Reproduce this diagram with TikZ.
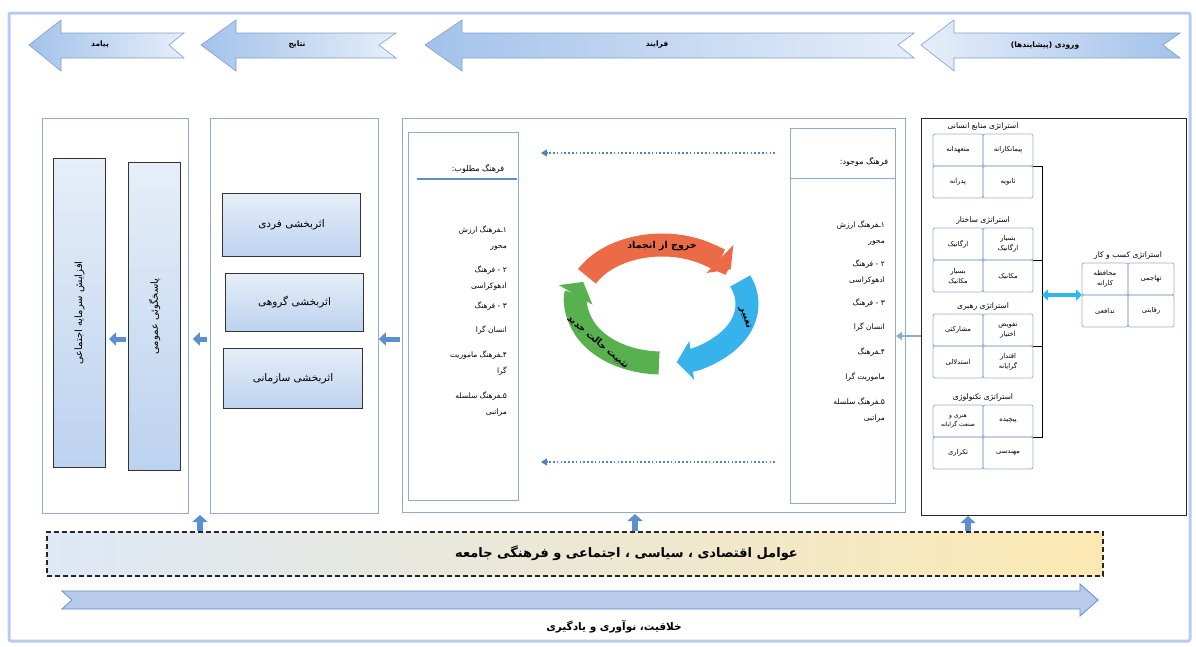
\documentclass[tikz,border=0pt]{standalone}
\usepackage{fontspec}
\usepackage{tikz}
\usetikzlibrary{arrows.meta, positioning, calc}

\newfontfamily\arabicfont[Script=Arabic]{DejaVu Sans}
\TeXXeTstate=1
\newcommand{\fa}[1]{{\arabicfont\beginR #1\endR}}

\definecolor{edgeblue}{HTML}{8FABD1}
\definecolor{cellblue}{HTML}{97B0D3}
\definecolor{bandlight}{HTML}{E6EEF9}
\definecolor{banddark}{HTML}{A3C2EA}
\definecolor{bandedge}{HTML}{7F9FCC}
\definecolor{boxlight}{HTML}{E6EEF8}
\definecolor{boxdark}{HTML}{BCD2EF}
\definecolor{flowblue}{HTML}{5B8FD0}
\definecolor{dotblue}{HTML}{4C84C6}
\definecolor{cyanblue}{HTML}{2CB8EF}
\definecolor{cycred}{HTML}{EC6B47}
\definecolor{cycblue}{HTML}{37B3EC}
\definecolor{cycgreen}{HTML}{58B04F}
\definecolor{sandlight}{HTML}{FCE8B2}
\definecolor{longfill}{HTML}{B8CCEA}
\definecolor{framepen}{HTML}{B5CCEE}

\begin{document}
\begin{tikzpicture}[
  x=1pt, y=-1pt,
  band/.style      = {draw=bandedge, line width=0.6pt, left color=banddark, right color=bandlight},
  bandtext/.style  = {inner sep=0pt, font=\fontsize{7.5}{9}\selectfont\bfseries},
  frame/.style     = {draw=edgeblue, line width=0.8pt, inner sep=0pt, anchor=north west},
  panel/.style     = {draw=black!80, line width=1pt, inner sep=0pt, anchor=north west,
                      top color=boxlight, bottom color=boxdark, font=\fontsize{10.5}{12}\selectfont},
  item/.style      = {anchor=east, align=right, inner sep=0pt, font=\fontsize{7.5}{15.5}\selectfont},
  title/.style     = {inner sep=0pt, font=\fontsize{7.6}{9}\selectfont},
  cell/.style      = {draw=cellblue, line width=0.8pt, rounded corners=2pt, minimum width=50pt,
                      minimum height=32pt, inner sep=1pt, outer sep=0pt, align=center,
                      font=\fontsize{6.8}{10}\selectfont, node distance=0pt},
  flow/.style      = {draw=flowblue, line width=5pt, -{Triangle[length=7pt, width=13pt]}},
  thinflow/.style  = {draw=edgeblue, line width=2pt, -{Triangle[length=6pt, width=8pt]}},
  dotflow/.style   = {draw=dotblue, line width=1.6pt, dash pattern=on 1.6pt off 2.2pt,
                      -{Triangle[length=6pt, width=7pt]}},
  bracket/.style   = {draw=black, line width=0.9pt},
  biarrow/.style   = {draw=cyanblue, line width=4pt,
                      {Triangle[length=6pt, width=11pt]}-{Triangle[length=6pt, width=11pt]}},
  cycarc/.style    = {line width=23pt, -{Triangle[length=15pt, width=38pt]}},
  cyctext/.style   = {inner sep=0pt, font=\fontsize{9.5}{11}\selectfont\bfseries},
  factors/.style   = {draw=black!85, line width=1.3pt, dash pattern=on 5pt off 3pt,
                      minimum width=1056pt, minimum height=44pt, inner sep=0pt,
                      left color=boxlight!80!boxdark, right color=sandlight}
]
\useasboundingbox (0,0) rectangle (1196,646);
\draw[framepen, line width=3pt, rounded corners=2pt] (9,13) rectangle (1190,641);

% top band arrows
\draw[band] (29,45) -- (61,20) -- (61,33) -- (184,33) -- (169,45) -- (184,58) -- (61,58) -- (61,71) -- cycle;
\node[bandtext] (outlbl) at (100,45) {\fa{پیامد}};
\draw[band] (201,45) -- (236,20) -- (236,33) -- (396,33) -- (379,45) -- (396,58) -- (236,58) -- (236,71) -- cycle;
\node[bandtext] (reslbl) at (297,45) {\fa{نتایج}};
\draw[band] (425,45) -- (462,20) -- (462,33) -- (914,33) -- (898,45) -- (914,58) -- (462,58) -- (462,71) -- cycle;
\node[bandtext] (prclbl) at (657,45) {\fa{فرایند}};
\draw[band, left color=bandlight, right color=banddark]
  (921,45) -- (954,20) -- (954,33) -- (1180,33) -- (1163,45) -- (1180,58) -- (954,58) -- (954,71) -- cycle;
\node[bandtext] (inplbl) at (1045,46) {\fa{ورودی (پیشایندها)}};

% outcome column
\node[frame, minimum width=146pt, minimum height=395pt] (outc) at (42,118) {};
\node[panel, minimum width=52pt, minimum height=309pt] (capbar) at (53,158) {};
\node[rotate=90, font=\fontsize{10}{12}\selectfont] (captxt) at (capbar.center) {\fa{افزایش سرمایه اجتماعی}};
\node[panel, minimum width=52pt, minimum height=308pt] (accbar) at (128,162) {};
\node[rotate=90, font=\fontsize{10}{12}\selectfont] (acctxt) at (accbar.center) {\fa{پاسخگوئی عمومی}};

% results column
\node[frame, minimum width=168pt, minimum height=395pt] (resu) at (210,118) {};
\node[panel, minimum width=138pt, minimum height=63pt] (effind) at (222,193) {\fa{اثربخشی فردی}};
\node[panel, minimum width=138pt, minimum height=58pt] (effgrp) at (225,273) {\fa{اثربخشی گروهی}};
\node[panel, minimum width=139pt, minimum height=60pt] (efforg) at (223,348) {\fa{اثربخشی سازمانی}};

% process column
\node[frame, minimum width=503pt, minimum height=394pt] (proc) at (402,118) {};
\node[frame, line width=0.9pt, minimum width=110pt, minimum height=368pt] (desbox) at (408,132) {};
\node[frame, line width=0.9pt, minimum width=105pt, minimum height=375pt] (curbox) at (790,128) {};
\draw[edgeblue, line width=0.9pt] (curbox.west |- 0,178) -- (curbox.east |- 0,178);
\draw[flowblue, line width=1.3pt] (417,179) -- (517,179);
\node[title, font=\fontsize{8}{9}\selectfont] (deshead) at (478,169) {\fa{فرهنگ مطلوب:}};
\node[title, font=\fontsize{8}{9}\selectfont] (curhead) at (864,162) {\fa{فرهنگ موجود:}};

\node[item] (des1) at (507,238) {\fa{۱ـفرهنگ ارزش}\\\fa{محور}};
\node[item] (des2) at (507,278) {\fa{۲ - فرهنگ}\\\fa{ادهوکراسی}};
\node[item] (des3) at (507,306) {\fa{۳ - فرهنگ}};
\node[item] (des3b) at (507,330) {\fa{انسان گرا}};
\node[item] (des4) at (507,363) {\fa{۴ـفرهنگ ماموریت}\\\fa{گرا}};
\node[item] (des5) at (507,404) {\fa{۵ـفرهنگ سلسله}\\\fa{مراتبی}};

\node[item] (cur1) at (885,233) {\fa{۱ـفرهنگ ارزش}\\\fa{محور}};
\node[item] (cur2) at (885,272) {\fa{۲ - فرهنگ}\\\fa{ادهوکراسی}};
\node[item] (cur3) at (885,303) {\fa{۳ - فرهنگ}};
\node[item] (cur3b) at (885,327) {\fa{انسان گرا}};
\node[item] (cur4) at (885,352) {\fa{۴ـفرهنگ}};
\node[item] (cur4b) at (885,377) {\fa{ماموریت گرا}};
\node[item] (cur5) at (885,410) {\fa{۵ـفرهنگ سلسله}\\\fa{مراتبی}};

\draw[dotflow, shorten <=15pt, shorten >=22pt] (curbox.west |- 0,153) -- (desbox.east |- 0,153);
\draw[dotflow, shorten <=15pt, shorten >=22pt] (curbox.west |- 0,462) -- (desbox.east |- 0,462);

% change cycle
\coordinate (cyc) at (662,304);
\draw[cycarc, draw=cycred] (cyc) ++(152:85pt and 59pt)
  arc[start angle=152, end angle=36, x radius=85pt, y radius=59pt];
\draw[cycarc, draw=cycblue] (cyc) ++(23:85pt and 59pt)
  arc[start angle=23, end angle=-80, x radius=85pt, y radius=59pt];
\draw[cycarc, draw=cycgreen] (cyc) ++(268:85pt and 59pt)
  arc[start angle=268, end angle=158, x radius=85pt, y radius=59pt];
\node[cyctext] (unfrz) at (662,246) {\fa{خروج از انجماد}};
\node[cyctext, rotate=-72] (chng) at (745,318) {\fa{تغییر}};
\node[cyctext, rotate=-40] (refrz) at (598,342) {\fa{تثبیت حالت جدید}};

% input column
\node[frame, draw=black!85, minimum width=265pt, minimum height=397pt] (inpt) at (921,118) {};

\node[cell] (hrTL) at (958,150) {\fa{متعهدانه}};
\node[cell, right=of hrTL] (hrTR) {\fa{پیمانکارانه}};
\node[cell, below=of hrTL] (hrBL) {\fa{پدرانه}};
\node[cell, below=of hrTR] (hrBR) {\fa{ثانویه}};
\node[title, above=3pt] (hrT) at ($(hrTL.north)!.5!(hrTR.north)$) {\fa{استراتژی منابع انسانی}};

\node[cell] (stTL) at (958,244) {\fa{ارگانیک}};
\node[cell, right=of stTL] (stTR) {\fa{بسیار}\\\fa{ارگانیک}};
\node[cell, below=of stTL] (stBL) {\fa{بسیار}\\\fa{مکانیک}};
\node[cell, below=of stTR] (stBR) {\fa{مکانیک}};
\node[title, above=3pt] (stT) at ($(stTL.north)!.5!(stTR.north)$) {\fa{استراتژی ساختار}};

\node[cell] (ldTL) at (958,330) {\fa{مشارکتی}};
\node[cell, right=of ldTL] (ldTR) {\fa{تفویض}\\\fa{اختیار}};
\node[cell, below=of ldTL] (ldBL) {\fa{استدلالی}};
\node[cell, below=of ldTR] (ldBR) {\fa{اقتدار}\\\fa{گرایانه}};
\node[title, above=3pt] (ldT) at ($(ldTL.north)!.5!(ldTR.north)$) {\fa{استراتژی رهبری}};

\node[cell, font=\fontsize{6}{9}\selectfont] (tcTL) at (958,421) {\fa{هنری و}\\\fa{صنعت گرایانه}};
\node[cell, right=of tcTL] (tcTR) {\fa{پیچیده}};
\node[cell, below=of tcTL] (tcBL) {\fa{تکراری}};
\node[cell, below=of tcTR] (tcBR) {\fa{مهندسی}};
\node[title, above=3pt] (tcT) at ($(tcTL.north)!.5!(tcTR.north)$) {\fa{استراتژی تکنولوژی}};

\node[cell, minimum width=46pt] (bzTL) at (1105,279) {\fa{محافظه}\\\fa{کارانه}};
\node[cell, minimum width=46pt, right=of bzTL] (bzTR) {\fa{تهاجمی}};
\node[cell, minimum width=46pt, below=of bzTL] (bzBL) {\fa{تدافعی}};
\node[cell, minimum width=46pt, below=of bzTR] (bzBR) {\fa{رقابتی}};
\node[title, above=3pt] (bzT) at ($(bzTL.north)!.5!(bzTR.north)$) {\fa{استراتژی کسب و کار}};

% bracket to business strategy
\coordinate (spine) at (1042,0);
\draw[bracket] (hrTR.south east) -- (hrTR.south east -| spine) -- (tcTR.south east -| spine) -- (tcTR.south east);
\draw[bracket] (stTR.south east) -- (stTR.south east -| spine);
\draw[bracket] (ldTR.south east) -- (ldTR.south east -| spine);
\draw[biarrow] (bzTL.south west -| spine) -- (bzTL.south west);

% flow between columns
\coordinate (row) at (0,339);
\draw[flow, shorten <=2pt, shorten >=3pt] (accbar.west |- row) -- (capbar.east |- row);
\draw[flow, shorten <=3pt, shorten >=4pt] (resu.west |- row) -- (outc.east |- row);
\draw[flow, shorten <=2pt] (proc.west |- row) -- (resu.east |- row);
\draw[thinflow] (inpt.west |- 0,336) -- (curbox.east |- 0,336);

% societal factors
\node[factors] (factors) at (575,554) {};
\node[anchor=east, inner sep=0pt, font=\fontsize{13}{15}\selectfont\bfseries] (factxt) at (798,553)
  {\fa{عوامل اقتصادی ، سیاسی ، اجتماعی و فرهنگی جامعه}};
\coordinate (upA) at (200,515);
\coordinate (upB) at (635,514);
\coordinate (upC) at (968,516);
\draw[flow, line width=6pt, -{Triangle[length=7pt, width=15pt]}] (factors.north -| upA) -- (upA);
\draw[flow, line width=6pt, -{Triangle[length=7pt, width=15pt]}] (factors.north -| upB) -- (upB);
\draw[flow, line width=6pt, -{Triangle[length=7pt, width=15pt]}] (factors.north -| upC) -- (upC);

% learning arrow
\draw[draw=flowblue, line width=0.8pt, fill=longfill]
  (62,591) -- (1080,591) -- (1080,584) -- (1098,600) -- (1080,616) -- (1080,609) -- (62,609) -- (72,600) -- cycle;
\node[inner sep=0pt, font=\fontsize{10.5}{12}\selectfont\bfseries] (learn) at (614,627) {\fa{خلاقیت، نوآوری و یادگیری}};
\end{tikzpicture}
\end{document}
